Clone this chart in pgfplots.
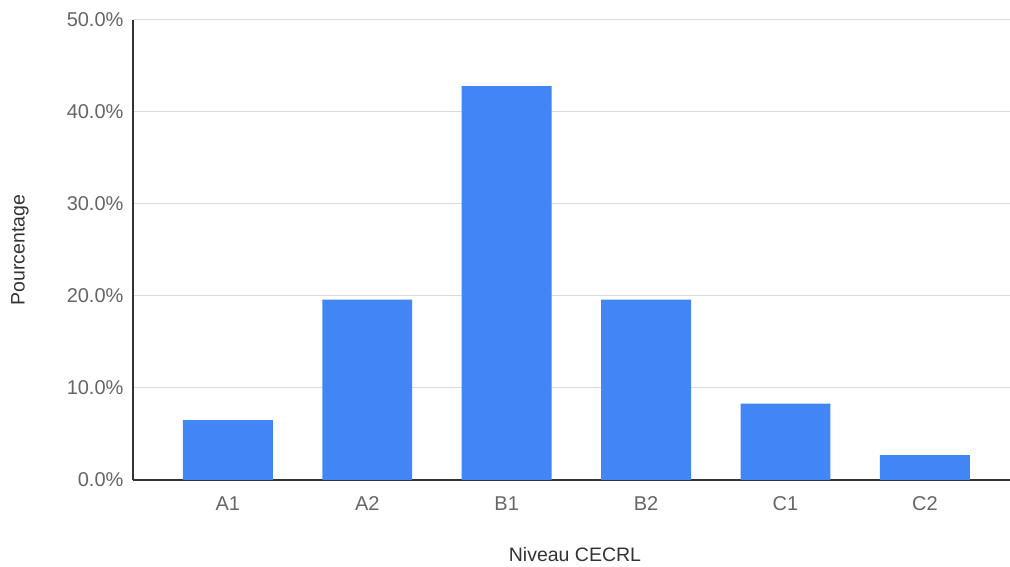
\documentclass[border=0pt]{standalone}
\usepackage{pgfplots}
\pgfplotsset{compat=1.18}
\usepackage{fontspec}
\setmainfont{Liberation Sans}
\definecolor{barblue}{HTML}{4285F4}
\definecolor{ticktext}{HTML}{666666}
\definecolor{gridgray}{HTML}{D9D9D9}
\definecolor{axisdark}{HTML}{333333}
\begin{document}
\begin{tikzpicture}
	\begin{axis}[
		at={(0,0)}, anchor=south west,
		scale only axis,
		width=877pt, height=460pt,
		xmin=-0.68, xmax=5.61,
		ymin=0, ymax=50,
		axis lines=left,
		axis line style={-, axisdark, line width=1.2pt},
		ytick={0,10,20,30,40,50},
		xtick=data,
		xticklabels={A1,A2,B1,B2,C1,C2},
		major tick length=0pt,
		ymajorgrids,
		grid style={gridgray, line width=1pt},
		/pgf/number format/assume math mode=true,
		yticklabel={\pgfmathprintnumber[fixed,fixed zerofill,precision=1]{\tick}\%},
		yticklabel style={font=\fontsize{20}{22}\selectfont, text=ticktext, xshift=-6pt},
		xticklabel style={font=\fontsize{20}{22}\selectfont, text=ticktext, yshift=-13pt},
		xlabel={Niveau CECRL},
		ylabel={Pourcentage},
		xlabel style={font=\fontsize{19.5}{22}\selectfont, text=black!80, at={(axis description cs:0.504,-0.163)}, anchor=center},
		ylabel style={font=\fontsize{19.5}{22}\selectfont, text=black!80, at={(axis description cs:-0.129,0.5)}, anchor=center},
	]
	\addplot [
		ybar,
		bar width=0.645,
		fill=barblue,
		draw=none,
	] coordinates {(0,6.5) (1,19.6) (2,42.8) (3,19.6) (4,8.3) (5,2.7)};
	\end{axis}
	\pgfresetboundingbox
	\path[use as bounding box] (-133pt,-87pt) rectangle (877pt,480pt);
\end{tikzpicture}
\end{document}
